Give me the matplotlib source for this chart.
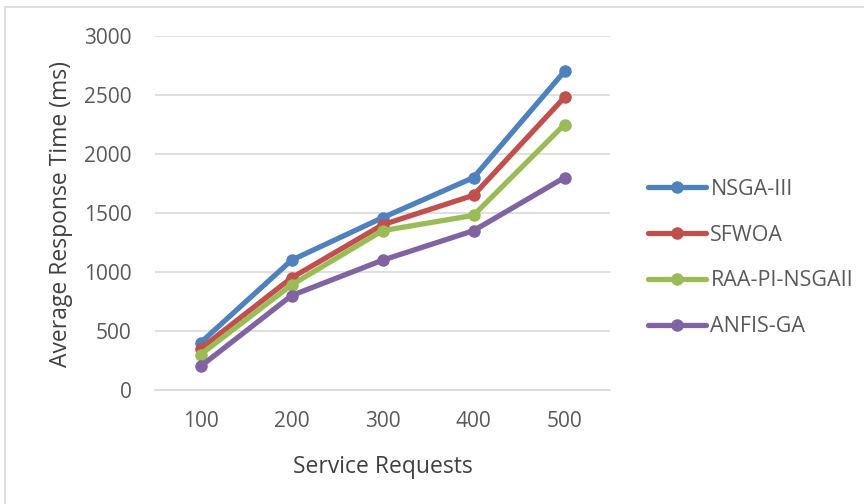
import matplotlib
matplotlib.use("Agg")
import matplotlib.pyplot as plt
from matplotlib.patches import Rectangle

categories = ["100", "200", "300", "400", "500"]
series_names = ["NSGA-III", "SFWOA", "RAA-PI-NSGAII", "ANFIS-GA"]
nsga3 = [400, 1100, 1460, 1800, 2700]
sfwoa = [350, 950, 1400, 1650, 2480]
raa_pi_nsga2 = [300, 890, 1350, 1480, 2250]
anfis_ga = [200, 800, 1100, 1350, 1800]
y_ticks = [0, 500, 1000, 1500, 2000, 2500, 3000]

colors = ["#4F81BD", "#C0504D", "#9BBB59", "#8064A2"]
values = [nsga3, sfwoa, raa_pi_nsga2, anfis_ga]

plt.rcParams['font.family'] = ['Open Sans', 'DejaVu Sans']
text_color = "#404040"
tick_color = "#595959"

fig = plt.figure(figsize=(8.64, 5.04), dpi=100)
ax = fig.add_axes([155/864, 1 - 390/504, 455/864, 354/504])

# outer chart frame
fig.patches.append(Rectangle((5/864, -0.1), 1.2, 1 - 7/504 + 0.1,
                             transform=fig.transFigure, fill=False,
                             edgecolor="#D9D9D9", linewidth=1.2))

x = list(range(len(categories)))
for name, vals, c in zip(series_names, values, colors):
    ax.plot(x, vals, color=c, linewidth=3.8, marker='o', markersize=8,
            label=name, solid_capstyle='round', solid_joinstyle='round')

ax.set_xlim(-0.5, len(categories) - 0.5)
ax.set_ylim(0, 3000)
ax.set_yticks(y_ticks)
ax.set_xticks(x)
ax.set_xticklabels(categories)
ax.yaxis.grid(True, color="#D9D9D9", linewidth=1.2)
ax.set_axisbelow(True)
for s in ["top", "right", "left"]:
    ax.spines[s].set_visible(False)
ax.spines["bottom"].set_color("#D9D9D9")
ax.spines["bottom"].set_linewidth(1.2)
ax.tick_params(axis='both', length=0, labelsize=15, labelcolor=tick_color)
ax.tick_params(axis='x', pad=15)
ax.tick_params(axis='y', pad=17)

ax.set_xlabel("Service Requests", fontsize=16.5, color=text_color)
ax.xaxis.label.set_va('center')
ax.xaxis.set_label_coords(0.5, (390 - 467) / 354)
ax.set_ylabel("Average Response Time (ms)", fontsize=16.5, color=text_color)
ax.yaxis.label.set_va('center')
ax.yaxis.set_label_coords((61 - 155) / 455, 0.5 - 1 / 354)

leg = ax.legend(loc='center left', bbox_to_anchor=((648 - 155) / 455, (390 - 258) / 354),
                frameon=False, borderaxespad=0, borderpad=0,
                fontsize=15.5, labelspacing=1.15, handlelength=2.7, handletextpad=0.2)
for t in leg.get_texts():
    t.set_color(tick_color)

fig.savefig("out.png", dpi=100)
